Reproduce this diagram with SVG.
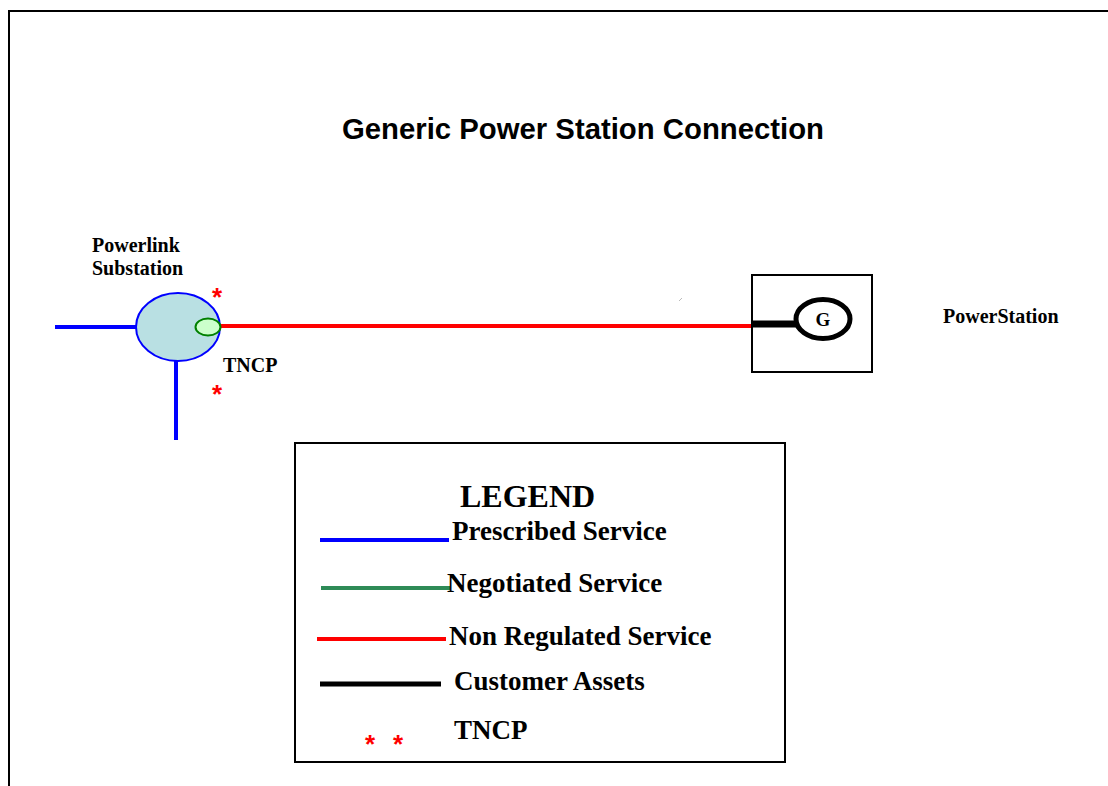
<svg xmlns="http://www.w3.org/2000/svg" width="1108" height="786" viewBox="0 0 1108 786">
<style>
.ttl{font-family:"Liberation Sans",Arial,sans-serif;font-weight:bold;font-size:29px;fill:#000}
.lbl{font-family:"Liberation Serif","Times New Roman",serif;font-weight:bold;font-size:20px;fill:#000}
.leg{font-family:"Liberation Serif","Times New Roman",serif;font-weight:bold;font-size:27px;fill:#000}
.ast{font-family:"Liberation Sans",Arial,sans-serif;font-weight:bold;font-size:26px;fill:#ff0000}
.blue{stroke:#0000ff;stroke-width:4;fill:none}
.red{stroke:#ff0000;stroke-width:4;fill:none}
.green{stroke:#2e8b57;stroke-width:4;fill:none}
.blk{stroke:#000;stroke-width:5;fill:none}
</style>
<rect width="1108" height="786" fill="#fff"/>
<g id="frame"><path d="M9,786 V11 H1108" fill="none" stroke="#000" stroke-width="2"/></g>
<text class="ttl" x="342" y="139" textLength="482" lengthAdjust="spacingAndGlyphs">Generic Power Station Connection</text>
<g id="connectors">
<line class="blue" x1="55" y1="327" x2="137" y2="327"/>
<line class="blue" x1="176" y1="358" x2="176" y2="440"/>
<line class="red" x1="218" y1="326" x2="752" y2="326"/>
<line x1="752" y1="324" x2="797" y2="324" stroke="#000" stroke-width="7"/>
<line x1="679" y1="301" x2="682" y2="298" stroke="#bbb" stroke-width="1"/>
</g>
<g id="substation">
<ellipse cx="178" cy="327" rx="42" ry="34" fill="#b9e0e3" stroke="#0000ff" stroke-width="2"/>
<ellipse cx="208" cy="327" rx="12.5" ry="8.5" fill="#ccffcc" stroke="#008000" stroke-width="2"/>
<text class="lbl" x="92" y="252">Powerlink</text>
<text class="lbl" x="92" y="275">Substation</text>
</g>
<g id="tncp">
<text class="ast" x="217" y="306" text-anchor="middle">*</text>
<text class="ast" x="217" y="403" text-anchor="middle">*</text>
<text class="lbl" x="223" y="372">TNCP</text>
</g>
<g id="powerstation">
<rect x="752" y="275" width="120" height="97" fill="none" stroke="#000" stroke-width="2"/>
<ellipse cx="823" cy="319" rx="27" ry="19.5" fill="#fff" stroke="#000" stroke-width="5"/>
<text class="lbl" x="823" y="326" text-anchor="middle" style="font-size:19px">G</text>
<text class="lbl" x="943" y="323">PowerStation</text>
</g>
<g id="legend">
<rect x="295" y="443" width="490" height="319" fill="#fff" stroke="#000" stroke-width="2"/>
<text class="leg" x="460" y="507" style="font-size:32px">LEGEND</text>
<line class="blue" x1="320" y1="540" x2="449" y2="540"/>
<text class="leg" x="452" y="540">Prescribed Service</text>
<line class="green" x1="321" y1="588" x2="450" y2="588"/>
<text class="leg" x="447" y="592">Negotiated Service</text>
<line class="red" x1="317" y1="639" x2="446" y2="639"/>
<text class="leg" x="449" y="645">Non Regulated Service</text>
<line class="blk" x1="320" y1="684" x2="441" y2="684"/>
<text class="leg" x="454" y="690">Customer Assets</text>
<text class="ast" x="370" y="753" text-anchor="middle">*</text>
<text class="ast" x="398" y="753" text-anchor="middle">*</text>
<text class="leg" x="454" y="739">TNCP</text>
</g>
</svg>
